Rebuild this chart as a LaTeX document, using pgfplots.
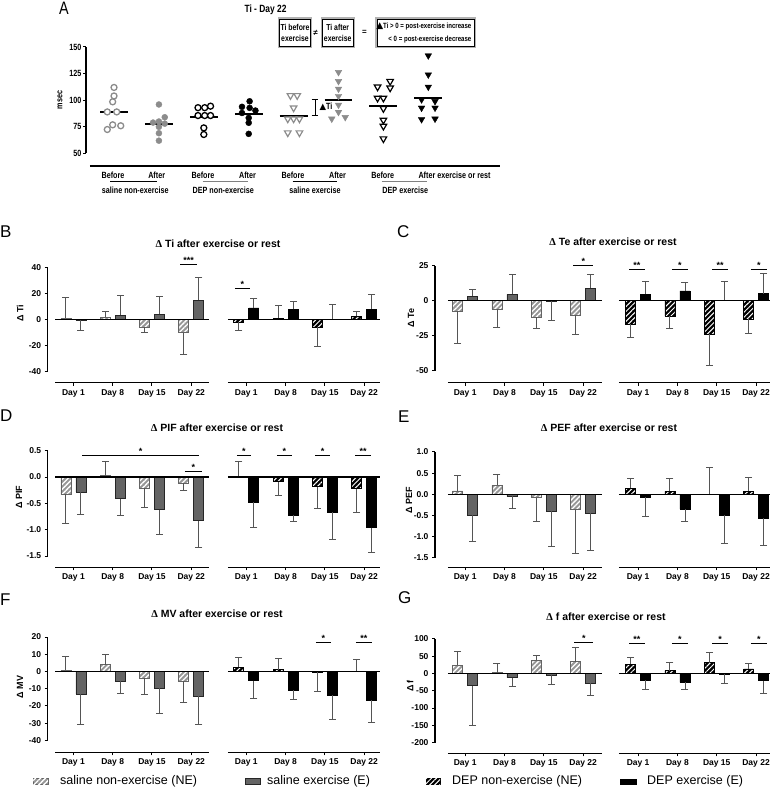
\documentclass[border=0pt]{standalone}
\usepackage{fontspec}
\setmainfont{Liberation Sans}
\newfontfamily\narrowfont{Liberation Sans}[FakeStretch=0.8]
\newfontfamily\serifdelta{Liberation Serif}
\newfontfamily\dejavu{DejaVu Sans}
\usepackage{pgfplots}
\pgfplotsset{compat=1.18}
\usetikzlibrary{patterns.meta}
\definecolor{mgray}{RGB}{140,140,140}
\definecolor{sEfill}{RGB}{100,100,100}
\definecolor{sNEfill}{RGB}{150,150,150}
\definecolor{errc}{RGB}{85,85,85}
\newcommand\fs[1]{\fontsize{#1}{#1}\selectfont}
\pgfplotsset{
 base/.style={scale only axis, clip=false, anchor=south west,
   axis line style={draw=none}, tick align=outside, tick pos=left,
   major tick length=3pt, tick style={black, line width=1pt},
   /pgf/number format/assume math mode=true},
 barpanel/.style={base, ybar, bar width=10pt,
   xtick={1,2,3,4,5.4,6.4,7.4,8.4},
   xticklabels={Day 1,Day 8,Day 15,Day 22,Day 1,Day 8,Day 15,Day 22},
   ticklabel style={font=\bfseries\fs{8.5}}},
 sNE/.style={draw=sEfill, line width=0.6pt, fill=sNEfill,
   postaction={pattern={Lines[angle=45,distance=3.5pt,line width=1.3pt]}, pattern color=white},
   bar shift=-7.5pt},
 sE/.style={draw=black!85, line width=0.6pt, fill=sEfill, bar shift=7.5pt},
 dNE/.style={draw=black, line width=0.6pt, fill=black,
   postaction={pattern={Lines[angle=45,distance=3.5pt,line width=1pt]}, pattern color=white},
   bar shift=-7.5pt},
 dE/.style={draw=black, line width=0.6pt, fill=black, bar shift=7.5pt},
 errline/.style={sharp plot, errc, line width=0.9pt, mark=none, unbounded coords=jump, forget plot},
 errcap/.style={only marks, mark=-, mark size=3.5pt, mark options={errc, line width=0.9pt}, forget plot},
}
\tikzset{
 sNEbox/.style={draw=sEfill, line width=0.6pt, fill=sNEfill,
   postaction={pattern={Lines[angle=45,distance=3.5pt,line width=1.3pt]}, pattern color=white}},
 dNEbox/.style={draw=black, line width=0.6pt, fill=black,
   postaction={pattern={Lines[angle=45,distance=3.5pt,line width=1pt]}, pattern color=white}},
}
\newcommand\sig[4]{\draw[line width=1pt] (axis cs:#1,#3) -- (axis cs:#2,#3) node[midway, above, inner sep=0.5pt, font=\bfseries\fs{9}] {#4};}
\newcommand\frameL[3]{%
 \draw[line width=1.3pt] (axis cs:0.346,#2) -- (axis cs:0.346,#3);
 \draw[line width=1.3pt] (axis cs:0.532,#1) -- (axis cs:4.45,#1) (axis cs:4.93,#1) -- (axis cs:8.80,#1);
 \draw[line width=1.2pt] (axis cs:0.532,0) -- (axis cs:4.45,0) (axis cs:4.93,0) -- (axis cs:8.80,0);}
\newcommand\frameR[3]{%
 \draw[line width=1.3pt] (axis cs:0.232,#2) -- (axis cs:0.232,#3);
 \draw[line width=1.3pt] (axis cs:0.562,#1) -- (axis cs:4.48,#1) (axis cs:4.91,#1) -- (axis cs:8.75,#1);
 \draw[line width=1.2pt] (axis cs:0.562,0) -- (axis cs:4.48,0) (axis cs:4.91,0) -- (axis cs:8.75,0);}
\begin{document}
\begin{tikzpicture}
\path[use as bounding box] (0,0) rectangle (777pt,-789pt);

% ---------------- Panel A ----------------
\begin{axis}[base, at={(86pt,-166pt)}, width=414pt, height=119pt,
  xmin=0.376, xmax=9.597, ymin=38.2, ymax=150, xtick=\empty,
  ytick={50,75,100,125,150}, yticklabels={50,75,100,125,150},
  ticklabel style={font=\narrowfont\bfseries\fs{9}, inner sep=1.5pt}]
\addplot[only marks, mark=*, mark size=3pt, mark options={draw=mgray, fill=white, line width=1.3pt}]
 coordinates {(1,112) (1,104) (0.97,98.5) (0.85,89) (1.06,89) (0.97,76.9) (1.15,76) (0.85,72.5)};
\addplot[only marks, mark=*, mark size=3pt, mark options={draw=mgray, fill=mgray}]
 coordinates {(2,96) (2.13,84) (1.87,79) (2,80) (2.13,78) (2,75) (2,69) (2,62)};
\addplot[only marks, mark=*, mark size=3pt, mark options={draw=black, fill=white, line width=1.3pt}]
 coordinates {(2.87,93) (3.02,93) (3.15,94.4) (2.87,85.6) (3.02,85.6) (3.15,85.6) (3,74) (3,67.8)};
\addplot[only marks, mark=*, mark size=3pt, mark options={draw=black, fill=black}]
 coordinates {(4.02,99) (3.85,93.8) (4.02,92.8) (4.15,90.3) (3.85,88) (4,83.4) (4,78.8) (4,68.4)};
\addplot[only marks, mark=triangle*, mark size=3.8pt, mark options={rotate=180, draw=mgray, fill=white, line width=1.2pt}]
 coordinates {(4.93,104.4) (5.08,104.4) (5,92.8) (4.87,82.5) (5,82.5) (5.13,82.5) (4.87,69.4) (5.13,69.4)};
\addplot[only marks, mark=triangle*, mark size=3.8pt, mark options={rotate=180, draw=mgray, fill=mgray}]
 coordinates {(6,126.3) (6,117.8) (6,110.6) (6,103.8) (6,95.6) (6,88.8) (5.85,82.5) (6.15,84)};
\addplot[only marks, mark=triangle*, mark size=3.8pt, mark options={rotate=180, draw=black, fill=white, line width=1.2pt}]
 coordinates {(6.87,112.5) (7.15,117.8) (7.15,111.6) (6.87,102) (7,102) (7,92.2) (7,81.3) (7,75.6) (7,63.8)};
\addplot[only marks, mark=triangle*, mark size=3.8pt, mark options={rotate=180, draw=black, fill=black}]
 coordinates {(8,141.9) (8,124) (8,112.5) (7.85,100.6) (8.15,99) (7.85,92.8) (8.15,92.8) (7.85,82) (8.15,82.5)};
\addplot[black, line width=2pt, mark=none] coordinates {(0.69,88.8) (1.31,88.8)};
\addplot[black, line width=2pt, mark=none] coordinates {(1.69,77.8) (2.31,77.8)};
\addplot[black, line width=2pt, mark=none] coordinates {(2.69,84.5) (3.31,84.5)};
\addplot[black, line width=2pt, mark=none] coordinates {(3.69,86.8) (4.31,86.8)};
\addplot[black, line width=2pt, mark=none] coordinates {(4.69,85.6) (5.31,85.6)};
\addplot[black, line width=2pt, mark=none] coordinates {(5.69,100.6) (6.31,100.6)};
\addplot[black, line width=2pt, mark=none] coordinates {(6.69,94.8) (7.31,94.8)};
\addplot[black, line width=2pt, mark=none] coordinates {(7.69,102.4) (8.31,102.4)};
\draw[line width=1.3pt] (axis cs:0.376,50) -- (axis cs:0.376,150);
\draw[line width=1.3pt] (axis cs:0.465,38.2) -- (axis cs:9.597,38.2);
\draw[line width=1pt] (axis cs:5.40,100.6) -- (axis cs:5.55,100.6) (axis cs:5.477,100.6) -- (axis cs:5.477,85.6) (axis cs:5.40,85.6) -- (axis cs:5.55,85.6);
\node[anchor=west, inner sep=1pt, font=\narrowfont\bfseries\fs{9}] at (axis cs:5.55,93.6) {{\dejavu\fs{8.5}▲}Ti};
\end{axis}
\node[font=\narrowfont\fs{18}, inner sep=0] at (64pt,-8pt) {A};
\node[font=\narrowfont\bfseries\fs{10.5}] at (265.5pt,-9.3pt) {Ti - Day 22};
\node[rotate=90, font=\narrowfont\bfseries\fs{9}] at (60pt,-100pt) {msec};
\foreach \a/\b/\c/\d in {278.7/18.3/311.3/47.3, 321.3/18.3/354/47.3, 376/18.3/475/47.3}{
  \draw[gray!60, line width=1.6pt] (\a pt,-\b pt) rectangle (\c pt,-\d pt);
  \draw[black, line width=0.5pt] (\a pt+0.8pt,-\b pt-0.8pt) rectangle (\c pt-0.8pt,-\d pt+0.8pt);}
\node[align=center, font=\narrowfont\bfseries\fs{8.6}, inner sep=0] at (295pt,-32.8pt) {Ti before\\[2.5pt]exercise};
\node[align=center, font=\narrowfont\bfseries\fs{8.6}, inner sep=0] at (337.7pt,-32.8pt) {Ti after\\[2.5pt]exercise};
\node[font=\bfseries\fs{8}] at (315.5pt,-33pt) {≠};
\node[font=\bfseries\fs{8}] at (364.5pt,-32pt) {=};
\node[anchor=east, inner sep=0, font=\narrowfont\bfseries\fs{7.6}] at (471.5pt,-26pt) {{\dejavu\fs{9}▲}Ti > 0 = post-exercise increase};
\node[anchor=east, inner sep=0, font=\narrowfont\bfseries\fs{7.6}] at (471.5pt,-39.3pt) {< 0 = post-exercise decrease};
\foreach \x/\t in {113/Before,156.7/After,203/Before,247.5/After,293/Before,337.5/After,382.7/Before}{
  \node[font=\narrowfont\bfseries\fs{9}] at (\x pt,-175pt) {\t};}
\node[anchor=west, inner sep=0, font=\narrowfont\bfseries\fs{9}] at (418.3pt,-175pt) {After exercise or rest};
\draw[line width=1.2pt] (110pt,-181.7pt) -- (156.7pt,-181.7pt);
\draw[line width=1.2pt, gray] (202.7pt,-181.7pt) -- (248.3pt,-181.7pt);
\draw[line width=1.2pt] (292.7pt,-181.7pt) -- (336.7pt,-181.7pt);
\draw[line width=1.2pt, gray] (381.7pt,-181.7pt) -- (426.7pt,-181.7pt);
\foreach \x/\t in {135.3/saline non-exercise,223.3/DEP non-exercise,315/saline exercise,405.3/DEP exercise}{
  \node[font=\narrowfont\bfseries\fs{9}] at (\x pt,-190pt) {\t};}

% ---------------- Panel B ----------------
\begin{axis}[barpanel, at={(47.7pt,-382.7pt)}, width=332.2pt, height=115.05pt,
  xmin=0.346, xmax=8.80, ymin=-48.5, ymax=40,
  ytick={-40,-20,0,20,40}, yticklabels={-40,-20,0,20,40}]
\addplot[sNE] coordinates {(1,1) (2,2) (3,-5.5) (4,-10)};
\addplot[sE] coordinates {(1,-0.5) (2,3.5) (3,4) (4,15)};
\addplot[dNE] coordinates {(5.4,-2) (6.4,1) (7.4,-5.5) (8.4,2.5)};
\addplot[dE] coordinates {(5.4,9) (6.4,8) (7.4,0.5) (8.4,8)};
\addplot[errline] coordinates {(0.809,1) (0.809,17) (0.809,nan) (1.809,2) (1.809,6.2) (1.809,nan)
 (2.809,-5.5) (2.809,-9.7) (2.809,nan) (3.809,-10) (3.809,-27) (3.809,nan)
 (1.191,-0.5) (1.191,-8) (1.191,nan) (2.191,3.5) (2.191,18.5) (2.191,nan)
 (3.191,4) (3.191,17.7) (3.191,nan) (4.191,15) (4.191,32.2) (4.191,nan)
 (5.209,-2) (5.209,-8) (5.209,nan) (6.209,1) (6.209,11) (6.209,nan)
 (7.209,-5.5) (7.209,-20.5) (7.209,nan) (8.209,2.5) (8.209,6.5) (8.209,nan)
 (5.591,9) (5.591,16.2) (5.591,nan) (6.591,8) (6.591,14) (6.591,nan)
 (7.591,0.5) (7.591,12) (7.591,nan) (8.591,8) (8.591,19.6)};
\addplot[errcap] coordinates {(0.809,17) (1.809,6.2) (2.809,-9.7) (3.809,-27) (1.191,-8) (2.191,18.5) (3.191,17.7) (4.191,32.2)
 (5.209,-8) (6.209,11) (7.209,-20.5) (8.209,6.5) (5.591,16.2) (6.591,14) (7.591,12) (8.591,19.6)};
\frameL{-48.5}{-40}{40}
\sig{3.72}{4.15}{42.6}{***}
\sig{5.11}{5.49}{24}{*}
\end{axis}

% ---------------- Panel C ----------------
\begin{axis}[barpanel, at={(435pt,-382.7pt)}, width=334.8pt, height=117.04pt,
  xmin=0.232, xmax=8.75, ymin=-58.6, ymax=25,
  ytick={-50,-25,0,25}, yticklabels={-50,-25,0,25}]
\addplot[sNE] coordinates {(1,-7.5) (2,-6) (3,-12) (4,-10.5)};
\addplot[sE] coordinates {(1,3) (2,4.5) (3,-0.5) (4,9)};
\addplot[dNE] coordinates {(5.4,-17) (6.4,-11) (7.4,-24) (8.4,-13)};
\addplot[dE] coordinates {(5.4,4.5) (6.4,7) (7.4,0.3) (8.4,5)};
\addplot[errline] coordinates {(0.809,-7.5) (0.809,-30.3) (0.809,nan) (1.809,-6) (1.809,-19) (1.809,nan)
 (2.809,-12) (2.809,-19.5) (2.809,nan) (3.809,-10.5) (3.809,-24.2) (3.809,nan)
 (1.191,3) (1.191,8) (1.191,nan) (2.191,4.5) (2.191,18.5) (2.191,nan)
 (3.191,-0.5) (3.191,-14) (3.191,nan) (4.191,9) (4.191,18.8) (4.191,nan)
 (5.209,-17) (5.209,-26.4) (5.209,nan) (6.209,-11) (6.209,-20) (6.209,nan)
 (7.209,-24) (7.209,-46.6) (7.209,nan) (8.209,-13) (8.209,-23.4) (8.209,nan)
 (5.591,4.5) (5.591,13.8) (5.591,nan) (6.591,7) (6.591,13.2) (6.591,nan)
 (7.591,0.3) (7.591,13.9) (7.591,nan) (8.591,5) (8.591,19.5)};
\addplot[errcap] coordinates {(0.809,-30.3) (1.809,-19) (2.809,-19.5) (3.809,-24.2) (1.191,8) (2.191,18.5) (3.191,-14) (4.191,18.8)
 (5.209,-26.4) (6.209,-20) (7.209,-46.6) (8.209,-23.4) (5.591,13.8) (6.591,13.2) (7.591,13.9) (8.591,19.5)};
\frameR{-58.6}{-50}{25}
\sig{3.75}{4.26}{24.8}{*}
\sig{5.17}{5.57}{22.4}{**}
\sig{6.26}{6.67}{22.4}{*}
\sig{7.28}{7.69}{22.4}{**}
\sig{8.27}{8.67}{22.4}{*}
\end{axis}

% ---------------- Panel D ----------------
\begin{axis}[barpanel, at={(47.7pt,-567.3pt)}, width=332.2pt, height=116.6pt,
  xmin=0.346, xmax=8.80, ymin=-1.713, ymax=0.5,
  ytick={-1.5,-1,-0.5,0,0.5}, yticklabels={-1.5,-1.0,-0.5,0.0,0.5}]
\addplot[sNE] coordinates {(1,-0.33) (2,0.025) (3,-0.21) (4,-0.11)};
\addplot[sE] coordinates {(1,-0.28) (2,-0.41) (3,-0.62) (4,-0.83)};
\addplot[dNE] coordinates {(5.4,0.005) (6.4,-0.09) (7.4,-0.18) (8.4,-0.22)};
\addplot[dE] coordinates {(5.4,-0.48) (6.4,-0.72) (7.4,-0.67) (8.4,-0.96)};
\addplot[errline] coordinates {(0.809,-0.33) (0.809,-0.88) (0.809,nan) (1.809,0.025) (1.809,0.295) (1.809,nan)
 (2.809,-0.21) (2.809,-0.57) (2.809,nan) (3.809,-0.11) (3.809,-0.25) (3.809,nan)
 (1.191,-0.28) (1.191,-0.71) (1.191,nan) (2.191,-0.41) (2.191,-0.73) (2.191,nan)
 (3.191,-0.62) (3.191,-1.08) (3.191,nan) (4.191,-0.83) (4.191,-1.34) (4.191,nan)
 (5.209,0.005) (5.209,0.305) (5.209,nan) (6.209,-0.09) (6.209,-0.34) (6.209,nan)
 (7.209,-0.18) (7.209,-0.59) (7.209,nan) (8.209,-0.22) (8.209,-0.67) (8.209,nan)
 (5.591,-0.48) (5.591,-0.96) (5.591,nan) (6.591,-0.72) (6.591,-0.85) (6.591,nan)
 (7.591,-0.67) (7.591,-1.18) (7.591,nan) (8.591,-0.96) (8.591,-1.44)};
\addplot[errcap] coordinates {(0.809,-0.88) (1.809,0.295) (2.809,-0.57) (3.809,-0.25) (1.191,-0.71) (2.191,-0.73) (3.191,-1.08) (4.191,-1.34)
 (5.209,0.305) (6.209,-0.34) (7.209,-0.59) (8.209,-0.67) (5.591,-0.96) (6.591,-0.85) (7.591,-1.18) (8.591,-1.44)};
\frameL{-1.713}{-1.5}{0.5}
\sig{1.22}{4.2}{0.4}{*}
\sig{3.84}{4.27}{0.114}{*}
\sig{5.16}{5.52}{0.4}{*}
\sig{6.18}{6.56}{0.4}{*}
\sig{7.15}{7.53}{0.4}{*}
\sig{8.17}{8.58}{0.4}{**}
\end{axis}

% ---------------- Panel E ----------------
\begin{axis}[barpanel, at={(435pt,-567.3pt)}, width=334.8pt, height=115.4pt,
  xmin=0.232, xmax=8.75, ymin=-1.722, ymax=1.0,
  ytick={-1.5,-1,-0.5,0,0.5,1}, yticklabels={-1.5,-1.0,-0.5,0.0,0.5,1.0}]
\addplot[sNE] coordinates {(1,0.08) (2,0.21) (3,-0.08) (4,-0.36)};
\addplot[sE] coordinates {(1,-0.5) (2,-0.05) (3,-0.4) (4,-0.45)};
\addplot[dNE] coordinates {(5.4,0.14) (6.4,0.07) (7.4,0.005) (8.4,0.07)};
\addplot[dE] coordinates {(5.4,-0.07) (6.4,-0.35) (7.4,-0.5) (8.4,-0.57)};
\addplot[errline] coordinates {(0.809,0.08) (0.809,0.44) (0.809,nan) (1.809,0.21) (1.809,0.48) (1.809,nan)
 (2.809,-0.08) (2.809,-0.64) (2.809,nan) (3.809,-0.36) (3.809,-1.39) (3.809,nan)
 (1.191,-0.5) (1.191,-1.12) (1.191,nan) (2.191,-0.05) (2.191,-0.33) (2.191,nan)
 (3.191,-0.4) (3.191,-1.22) (3.191,nan) (4.191,-0.45) (4.191,-1.33) (4.191,nan)
 (5.209,0.14) (5.209,0.38) (5.209,nan) (6.209,0.07) (6.209,0.38) (6.209,nan)
 (7.209,0.005) (7.209,0.625) (7.209,nan) (8.209,0.07) (8.209,0.39) (8.209,nan)
 (5.591,-0.07) (5.591,-0.52) (5.591,nan) (6.591,-0.35) (6.591,-0.63) (6.591,nan)
 (7.591,-0.5) (7.591,-1.16) (7.591,nan) (8.591,-0.57) (8.591,-1.21)};
\addplot[errcap] coordinates {(0.809,0.44) (1.809,0.48) (2.809,-0.64) (3.809,-1.39) (1.191,-1.12) (2.191,-0.33) (3.191,-1.22) (4.191,-1.33)
 (5.209,0.38) (6.209,0.38) (7.209,0.625) (8.209,0.39) (5.591,-0.52) (6.591,-0.63) (7.591,-1.16) (8.591,-1.21)};
\frameR{-1.722}{-1.5}{1.0}
\end{axis}

% ---------------- Panel F ----------------
\begin{axis}[barpanel, at={(47.7pt,-752.3pt)}, width=332.2pt, height=115.3pt,
  xmin=0.346, xmax=8.80, ymin=-46.9, ymax=20,
  ytick={-40,-30,-20,-10,0,10,20}, yticklabels={-40,-30,-20,-10,0,10,20}]
\addplot[sNE] coordinates {(1,0.7) (2,4) (3,-4) (4,-5.5)};
\addplot[sE] coordinates {(1,-13.2) (2,-5.5) (3,-9.8) (4,-14.3)};
\addplot[dNE] coordinates {(5.4,2.5) (6.4,1) (7.4,-0.2) (8.4,0.2)};
\addplot[dE] coordinates {(5.4,-5.3) (6.4,-11) (7.4,-13.6) (8.4,-16.7)};
\addplot[errline] coordinates {(0.809,0.7) (0.809,9) (0.809,nan) (1.809,4) (1.809,10) (1.809,nan)
 (2.809,-4) (2.809,-13.3) (2.809,nan) (3.809,-5.5) (3.809,-18.1) (3.809,nan)
 (1.191,-13.2) (1.191,-30.6) (1.191,nan) (2.191,-5.5) (2.191,-12.9) (2.191,nan)
 (3.191,-9.8) (3.191,-24.1) (3.191,nan) (4.191,-14.3) (4.191,-30.9) (4.191,nan)
 (5.209,2.5) (5.209,8.1) (5.209,nan) (6.209,1) (6.209,7.7) (6.209,nan)
 (7.209,-0.2) (7.209,-11.6) (7.209,nan) (8.209,0.2) (8.209,6.8) (8.209,nan)
 (5.591,-5.3) (5.591,-15.4) (5.591,nan) (6.591,-11) (6.591,-16) (6.591,nan)
 (7.591,-13.6) (7.591,-27.6) (7.591,nan) (8.591,-16.7) (8.591,-29.3)};
\addplot[errcap] coordinates {(0.809,9) (1.809,10) (2.809,-13.3) (3.809,-18.1) (1.191,-30.6) (2.191,-12.9) (3.191,-24.1) (4.191,-30.9)
 (5.209,8.1) (6.209,7.7) (7.209,-11.6) (8.209,6.8) (5.591,-15.4) (6.591,-16) (7.591,-27.6) (8.591,-29.3)};
\frameL{-46.9}{-40}{20}
\sig{7.17}{7.55}{17}{*}
\sig{8.19}{8.6}{17}{**}
\end{axis}

% ---------------- Panel G ----------------
\begin{axis}[barpanel, at={(435pt,-753.3pt)}, width=334.8pt, height=114.4pt,
  xmin=0.232, xmax=8.75, ymin=-231, ymax=100,
  ytick={-200,-150,-100,-50,0,50,100}, yticklabels={-200,-150,-100,-50,0,50,100}]
\addplot[sNE] coordinates {(1,24) (2,2) (3,38) (4,34)};
\addplot[sE] coordinates {(1,-35) (2,-12) (3,-4) (4,-29)};
\addplot[dNE] coordinates {(5.4,26) (6.4,8.5) (7.4,31) (8.4,13.5)};
\addplot[dE] coordinates {(5.4,-19) (6.4,-26) (7.4,-1) (8.4,-21)};
\addplot[errline] coordinates {(0.809,24) (0.809,64) (0.809,nan) (1.809,2) (1.809,28) (1.809,nan)
 (2.809,38) (2.809,53) (2.809,nan) (3.809,34) (3.809,74) (3.809,nan)
 (1.191,-35) (1.191,-151) (1.191,nan) (2.191,-12) (2.191,-37) (2.191,nan)
 (3.191,-4) (3.191,-32) (3.191,nan) (4.191,-29) (4.191,-63.7) (4.191,nan)
 (5.209,26) (5.209,45) (5.209,nan) (6.209,8.5) (6.209,31.5) (6.209,nan)
 (7.209,31) (7.209,61.7) (7.209,nan) (8.209,13.5) (8.209,28) (8.209,nan)
 (5.591,-19) (5.591,-45) (5.591,nan) (6.591,-26) (6.591,-45) (6.591,nan)
 (7.591,-1) (7.591,-30) (7.591,nan) (8.591,-21) (8.591,-56.7)};
\addplot[errcap] coordinates {(0.809,64) (1.809,28) (2.809,53) (3.809,74) (1.191,-151) (2.191,-37) (3.191,-32) (4.191,-63.7)
 (5.209,45) (6.209,31.5) (7.209,61.7) (8.209,28) (5.591,-45) (6.591,-45) (7.591,-30) (8.591,-56.7)};
\frameR{-231}{-200}{100}
\sig{3.78}{4.26}{88.6}{*}
\sig{5.17}{5.57}{86}{**}
\sig{6.26}{6.67}{86}{*}
\sig{7.28}{7.69}{86}{*}
\sig{8.27}{8.67}{86}{*}
\end{axis}

% titles, labels, letters
\foreach \x/\y/\t in {218/244/Ti, 613/242/Te, 217/428/PIF, 609/428/PEF, 217/614/MV, 606/616.7/f}{
  \node[font=\bfseries\fs{10.5}] at (\x pt,-\y pt) {{\serifdelta Δ} \t\ after exercise or rest};}
\foreach \x/\y/\t in {20/313/Ti, 411/318/Te, 19/497/PIF, 409/500/PEF, 20/687/MV, 410/686/f}{
  \node[rotate=90, font=\bfseries\fs{9}] at (\x pt,-\y pt) {Δ \t};}
\foreach \x/\y/\t in {0/232/B, 397/232/C, 0/416/D, 398/416.7/E, 0/600/F, 398/597.5/G}{
  \node[anchor=west, inner sep=0, font=\fs{17}] at (\x pt,-\y pt) {\t};}

% legend
\path[sNEbox] (33pt,-778.5pt) rectangle (48pt,-784.5pt);
\node[anchor=west, inner sep=0, font=\fs{12.5}] at (60pt,-781.7pt) {saline non-exercise (NE)};
\path[draw=black!85, line width=0.6pt, fill=sEfill] (245pt,-778.5pt) rectangle (260pt,-784.5pt);
\node[anchor=west, inner sep=0, font=\fs{12.5}] at (267pt,-781.7pt) {saline exercise (E)};
\path[dNEbox] (426pt,-778.5pt) rectangle (440pt,-784.5pt);
\node[anchor=west, inner sep=0, font=\fs{12.5}] at (452pt,-781.7pt) {DEP non-exercise (NE)};
\path[fill=black] (620pt,-778.5pt) rectangle (637pt,-784.5pt);
\node[anchor=west, inner sep=0, font=\fs{12.5}] at (647pt,-781.7pt) {DEP exercise (E)};
\end{tikzpicture}
\end{document}
